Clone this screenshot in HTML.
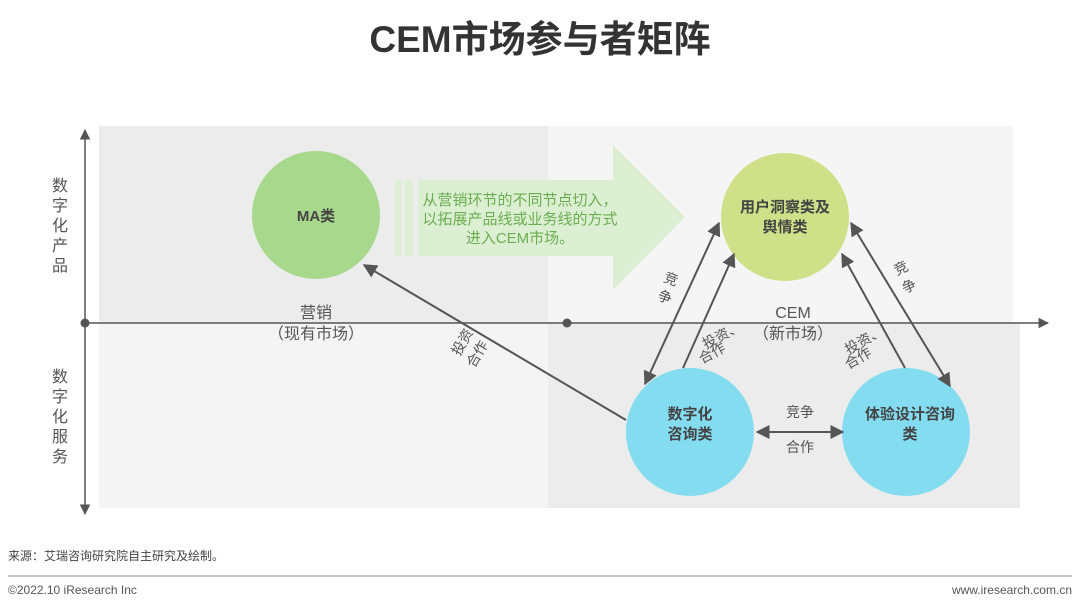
<!DOCTYPE html>
<html><head><meta charset="utf-8"><style>
body{margin:0;background:#fff;}
svg{display:block;}
text{font-family:"Liberation Sans","Noto Sans CJK SC",sans-serif;}
</style></head><body>
<svg width="1080" height="610" viewBox="0 0 1080 610">
<defs>
<marker id="ah" viewBox="0 0 10 10" refX="9" refY="5" markerWidth="7" markerHeight="7" orient="auto-start-reverse"><path d="M0,0L10,5L0,10z" fill="#555"/></marker>
</defs>
<text x="540" y="52" text-anchor="middle" font-size="37" font-weight="bold" fill="#333">CEM市场参与者矩阵</text>
<rect x="99" y="126" width="449" height="197" fill="#ececec"/>
<rect x="548" y="126" width="465" height="197" fill="#f5f5f5"/>
<rect x="99" y="323" width="449" height="185" fill="#f4f4f4"/>
<rect x="548" y="323" width="472" height="185" fill="#ececec"/>
<polygon points="418,180 613,180 613,145 685,217 613,290 613,256 418,256" fill="#dcefd3"/>
<rect x="395" y="180" width="6" height="76" fill="#dcefd3"/>
<rect x="405" y="180" width="8" height="76" fill="#dcefd3"/>
<text font-size="15" fill="#6aae4f" text-anchor="middle"><tspan x="520" y="205">从营销环节的不同节点切入，</tspan><tspan x="520" y="224">以拓展产品线或业务线的方式</tspan><tspan x="520" y="243">进入CEM市场。</tspan></text>
<line x1="85" y1="130" x2="85" y2="514" stroke="#555" stroke-width="1.5" marker-start="url(#ah)" marker-end="url(#ah)"/>
<line x1="85" y1="323" x2="1048" y2="323" stroke="#555" stroke-width="1.5" marker-end="url(#ah)"/>
<circle cx="85" cy="323" r="4.5" fill="#555"/>
<circle cx="567" cy="323" r="4.5" fill="#555"/>
<text font-size="16" fill="#555" text-anchor="middle"><tspan x="60" y="191">数</tspan><tspan x="60" y="211">字</tspan><tspan x="60" y="231">化</tspan><tspan x="60" y="251">产</tspan><tspan x="60" y="271">品</tspan></text>
<text font-size="16" fill="#555" text-anchor="middle"><tspan x="60" y="382">数</tspan><tspan x="60" y="402">字</tspan><tspan x="60" y="422">化</tspan><tspan x="60" y="442">服</tspan><tspan x="60" y="462">务</tspan></text>
<text font-size="16" fill="#555" text-anchor="middle"><tspan x="316" y="318">营销</tspan><tspan x="316" y="339">（现有市场）</tspan></text>
<text font-size="16" fill="#555" text-anchor="middle"><tspan x="793" y="318">CEM</tspan><tspan x="793" y="339">（新市场）</tspan></text>
<circle cx="316" cy="215" r="64" fill="#a8d88c"/>
<text x="316" y="221" text-anchor="middle" font-size="15" font-weight="bold" fill="#444">MA类</text>
<circle cx="785" cy="217" r="64" fill="#cfe188"/>
<text text-anchor="middle" font-size="15" font-weight="bold" fill="#444"><tspan x="785" y="212">用户洞察类及</tspan><tspan x="785" y="232">舆情类</tspan></text>
<circle cx="690" cy="432" r="64" fill="#84dcf0"/>
<text text-anchor="middle" font-size="15" font-weight="bold" fill="#444"><tspan x="690" y="419">数字化</tspan><tspan x="690" y="439">咨询类</tspan></text>
<circle cx="906" cy="432" r="64" fill="#84dcf0"/>
<text text-anchor="middle" font-size="15" font-weight="bold" fill="#444"><tspan x="910" y="419">体验设计咨询</tspan><tspan x="910" y="439">类</tspan></text>
<g stroke="#555" stroke-width="2" fill="none">
<line x1="626" y1="420" x2="364" y2="265" marker-end="url(#ah)"/>
<line x1="645" y1="384" x2="719" y2="223" marker-start="url(#ah)" marker-end="url(#ah)"/>
<line x1="683" y1="368" x2="734" y2="254" marker-end="url(#ah)"/>
<line x1="905" y1="368" x2="842" y2="254" marker-end="url(#ah)"/>
<line x1="851" y1="223" x2="950" y2="386" marker-start="url(#ah)" marker-end="url(#ah)"/>
<line x1="757" y1="432" x2="843" y2="432" marker-start="url(#ah)" marker-end="url(#ah)"/>
</g>
<g font-size="14" fill="#555" text-anchor="middle" dominant-baseline="central">
<text x="800" y="412">竞争</text><text x="800" y="447">合作</text>
<text transform="translate(671,279) rotate(20)">竞</text>
<text transform="translate(665,297) rotate(20)">争</text>
<text transform="translate(901,268) rotate(-25)">竞</text>
<text transform="translate(909,286) rotate(-25)">争</text>
<text transform="translate(722,335) rotate(-28)">投资、</text>
<text transform="translate(712,353) rotate(-28)">合作</text>
<text transform="translate(864,340) rotate(-30)">投资、</text>
<text transform="translate(858,358) rotate(-30)">合作</text>
<text transform="translate(462,342) rotate(-60)">投资</text>
<text transform="translate(477,354) rotate(-60)">合作</text>
</g>
<text x="8" y="560" font-size="12" fill="#444">来源：艾瑞咨询研究院自主研究及绘制。</text>
<line x1="8" y1="576" x2="1072" y2="576" stroke="#888" stroke-width="1"/>
<text x="8" y="594" font-size="12" fill="#555">©2022.10 iResearch Inc</text>
<text x="1072" y="594" font-size="12" fill="#555" text-anchor="end">www.iresearch.com.cn</text>
</svg>
</body></html>
